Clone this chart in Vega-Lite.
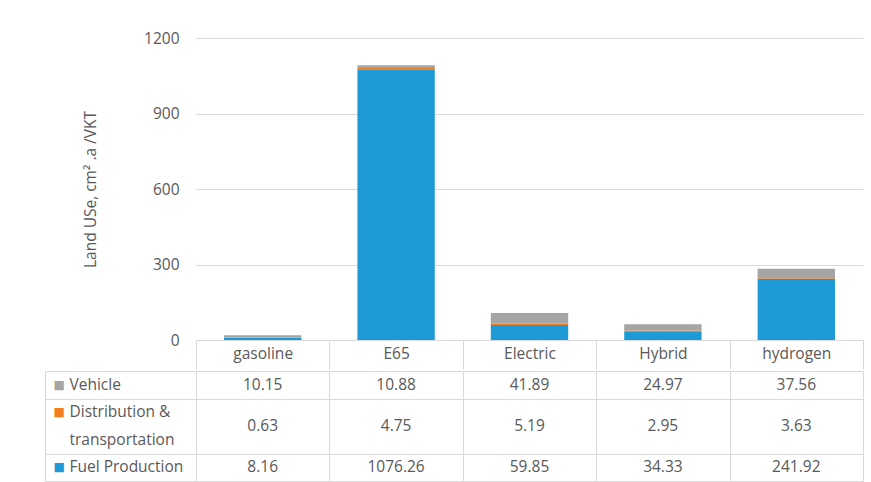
{
  "$schema": "https://vega.github.io/schema/vega-lite/v6.json",
  "background": "white",
  "padding": {"left": 44, "top": 31, "right": 5, "bottom": 2},
  "spacing": 0,
  "datasets": {
    "d": [
      {"category": "gasoline", "component": "Fuel Production", "value": 8.16},
      {"category": "gasoline", "component": "Distribution & transportation", "value": 0.63},
      {"category": "gasoline", "component": "Vehicle", "value": 10.15},
      {"category": "E65", "component": "Fuel Production", "value": 1076.26},
      {"category": "E65", "component": "Distribution & transportation", "value": 4.75},
      {"category": "E65", "component": "Vehicle", "value": 10.88},
      {"category": "Electric", "component": "Fuel Production", "value": 59.85},
      {"category": "Electric", "component": "Distribution & transportation", "value": 5.19},
      {"category": "Electric", "component": "Vehicle", "value": 41.89},
      {"category": "Hybrid", "component": "Fuel Production", "value": 34.33},
      {"category": "Hybrid", "component": "Distribution & transportation", "value": 2.95},
      {"category": "Hybrid", "component": "Vehicle", "value": 24.97},
      {"category": "hydrogen", "component": "Fuel Production", "value": 241.92},
      {"category": "hydrogen", "component": "Distribution & transportation", "value": 3.63},
      {"category": "hydrogen", "component": "Vehicle", "value": 37.56}
    ]
  },
  "vconcat": [
    {
      "width": 667,
      "height": 302,
      "data": {"name": "d"},
      "transform": [{"calculate": "indexof(['Fuel Production', 'Distribution & transportation', 'Vehicle'], datum.component)", "as": "stackOrder"}],
      "mark": {"type": "bar", "width": {"band": 0.58}},
      "encoding": {
        "x": {
          "field": "category", "type": "nominal",
          "scale": {"domain": ["gasoline", "E65", "Electric", "Hybrid", "hydrogen"], "paddingInner": 0, "paddingOuter": 0},
          "axis": {"title": null, "labelAngle": 0, "tickBand": "extent", "tickSize": 29, "labelPadding": -23, "grid": false, "domain": true}
        },
        "y": {
          "field": "value", "type": "quantitative", "stack": "zero",
          "scale": {"domain": [0, 1200], "nice": false},
          "axis": {"values": [0, 300, 600, 900, 1200], "format": "d", "title": "Land USe, cm² .a /VKT", "grid": true, "domain": false, "ticks": false, "labelPadding": 17, "titlePadding": 45}
        },
        "color": {
          "field": "component", "type": "nominal",
          "scale": {"domain": ["Fuel Production", "Distribution & transportation", "Vehicle"], "range": ["#1E9BD7", "#F47C20", "#A5A5A5"]},
          "legend": null
        },
        "order": {"field": "stackOrder", "type": "quantitative", "sort": "ascending"}
      }
    },
    {
      "width": 667,
      "height": 110,
      "view": {"stroke": "#D9D9D9"},
      "data": {"name": "d"},
      "resolve": {"axis": {"y": "independent"}},
      "layer": [
        {
          "transform": [{"filter": "datum.component == 'Vehicle'"}],
          "mark": {"type": "text", "font": "Open Sans", "fontSize": 15.5, "color": "#595959"},
          "encoding": {
            "x": {"field": "category", "type": "nominal", "scale": {"domain": ["gasoline", "E65", "Electric", "Hybrid", "hydrogen"], "paddingInner": 0, "paddingOuter": 0},
              "axis": {"orient": "top", "title": null, "labels": false, "ticks": false, "domain": false, "grid": true, "tickBand": "extent"}},
            "y": {"field": "component", "type": "nominal", "scale": {"domain": ["Vehicle", "Distribution & transportation", "transportation", "Fuel Production"], "paddingInner": 0, "paddingOuter": 0},
              "axis": {"orient": "left", "title": null, "values": ["Vehicle", "transportation", "Fuel Production"], "tickBand": "extent", "grid": true, "ticks": true, "tickSize": 151, "labels": false, "domain": false}},
            "text": {"field": "value", "type": "quantitative", "format": ".2f"}
          }
        },
        {
          "transform": [{"filter": "datum.component == 'Distribution & transportation'"}],
          "mark": {"type": "text", "font": "Open Sans", "fontSize": 15.5, "color": "#595959"},
          "encoding": {
            "x": {"field": "category", "type": "nominal", "scale": {"domain": ["gasoline", "E65", "Electric", "Hybrid", "hydrogen"], "paddingInner": 0, "paddingOuter": 0},
              "axis": {"orient": "top", "title": null, "labels": false, "ticks": false, "domain": false, "grid": true, "tickBand": "extent"}},
            "y": {"field": "component", "type": "nominal", "bandPosition": 1, "scale": {"domain": ["Vehicle", "Distribution & transportation", "transportation", "Fuel Production"], "paddingInner": 0, "paddingOuter": 0},
              "axis": {"orient": "left", "offset": 151, "title": null, "grid": false, "ticks": false, "domain": false, "labelAlign": "left", "labelPadding": -24, "labelOverlap": false, "labelLimit": 200,
                "labelExpr": "datum.value == 'Distribution & transportation' ? 'Distribution &' : datum.value"}},
            "text": {"field": "value", "type": "quantitative", "format": ".2f"}
          }
        },
        {
          "transform": [{"filter": "datum.component == 'Fuel Production'"}],
          "mark": {"type": "text", "font": "Open Sans", "fontSize": 15.5, "color": "#595959"},
          "encoding": {
            "x": {"field": "category", "type": "nominal", "scale": {"domain": ["gasoline", "E65", "Electric", "Hybrid", "hydrogen"], "paddingInner": 0, "paddingOuter": 0},
              "axis": {"orient": "top", "title": null, "labels": false, "ticks": false, "domain": false, "grid": true, "tickBand": "extent"}},
            "y": {"field": "component", "type": "nominal", "scale": {"domain": ["Vehicle", "Distribution & transportation", "transportation", "Fuel Production"], "paddingInner": 0, "paddingOuter": 0},
              "axis": {"orient": "left", "offset": 151, "title": null, "grid": false, "ticks": false, "domain": true, "labelAlign": "left", "labelPadding": -8, "labelOverlap": false,
                "labelFont": "DejaVu Sans", "labelFontSize": 12,
                "labelExpr": "datum.value == 'transportation' ? '' : '■'",
                "labelColor": {"condition": [
                  {"test": "datum.value == 'Vehicle'", "value": "#A5A5A5"},
                  {"test": "datum.value == 'Fuel Production'", "value": "#1E9BD7"}
                ], "value": "#F47C20"}}},
            "text": {"field": "value", "type": "quantitative", "format": ".2f"}
          }
        }
      ]
    }
  ],
  "config": {
    "view": {"stroke": null},
    "font": "Open Sans",
    "axis": {
      "labelFont": "Open Sans", "labelFontSize": 15.5, "labelColor": "#595959",
      "titleFont": "Open Sans", "titleFontSize": 15.5, "titleFontWeight": "normal", "titleColor": "#595959",
      "gridColor": "#D9D9D9", "domainColor": "#D9D9D9", "tickColor": "#D9D9D9"
    }
  }
}
